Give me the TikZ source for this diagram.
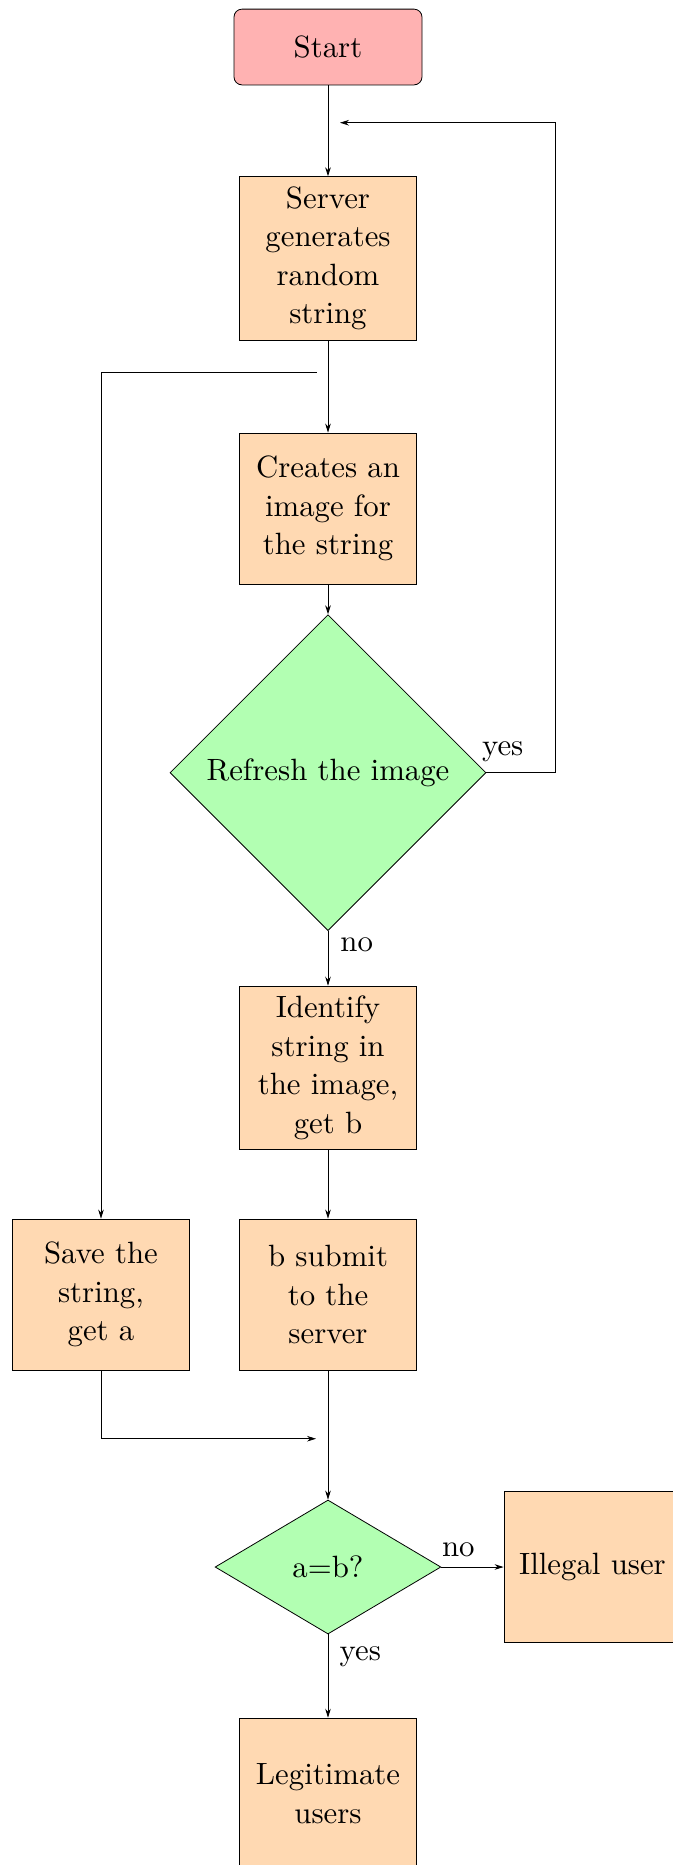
\documentclass[tikz,border=0pt]{standalone}
\usepackage{fontspec}
\setmainfont{lmroman10-regular.otf}
\usetikzlibrary{shapes.geometric,arrows.meta}
\begin{document}
\begin{tikzpicture}[x=0.5pt,y=-0.5pt,
  every node/.style={font=\fontsize{15.4}{19.2}\selectfont, inner sep=5pt},
  box/.style={draw, fill=orange!30, align=center, minimum width=88.5pt, minimum height=75.5pt},
  startbox/.style={draw, fill=red!30, rounded corners=4pt, minimum width=94pt, minimum height=37.9pt},
  decision/.style={draw, fill=green!30, diamond, align=center},
  arr/.style={-{Stealth[length=4.5pt,width=2.8pt]}},
  lbl/.style={inner sep=0pt, anchor=base west}]
\useasboundingbox (0,0) rectangle (673,1865);
\node[startbox] (start) at (328,47) {Start};
\node[box] (server) at (328,258.3) {Server\\generates\\random\\string};
\node[box] (creates) at (328,508.5) {Creates an\\image for\\the string};
\node[decision, aspect=1, minimum width=158pt, minimum height=158pt] (refresh) at (328,772.7) {Refresh the image};
\node[box] (identify) at (328,1067.7) {Identify\\string in\\the image,\\get b};
\node[box] (submit) at (328,1294.5) {b submit\\to the\\server};
\node[box] (save) at (101,1294.5) {Save the\\string,\\get a};
\node[decision, aspect=1.7, minimum width=112.9pt, minimum height=67pt] (check) at (328,1567) {a=b?};
\node[box] (illegal) at (592.5,1567) {Illegal user};
\node[box] (legit) at (328,1793.6) {Legitimate\\users};

\coordinate (fbx) at (555,772.7);
\coordinate (fbend) at (340,122.7);
\coordinate (splitA) at (316.7,372.3);
\coordinate (joinend) at (316,1438.7);

\draw[arr] (start) -- (server);
\draw[arr] (server) -- (creates);
\draw[arr] (creates) -- (refresh);
\draw[arr] (refresh.east) -- (fbx) |- (fbend);
\draw[arr] (refresh) -- (identify);
\draw[arr] (identify) -- (submit);
\draw[arr] (submit) -- (check);
\draw[arr] (check) -- (illegal);
\draw[arr] (check) -- (legit);
\draw[arr] (splitA) -| (save.north);
\draw[arr] (save.south) |- (joinend);

\node[lbl] (lyes1) at (481.7,755) {yes};
\node[lbl] (lno1) at (340,951.7) {no};
\node[lbl] (lno2) at (441.7,1556.7) {no};
\node[lbl] (lyes2) at (339.3,1660) {yes};
\end{tikzpicture}
\end{document}
